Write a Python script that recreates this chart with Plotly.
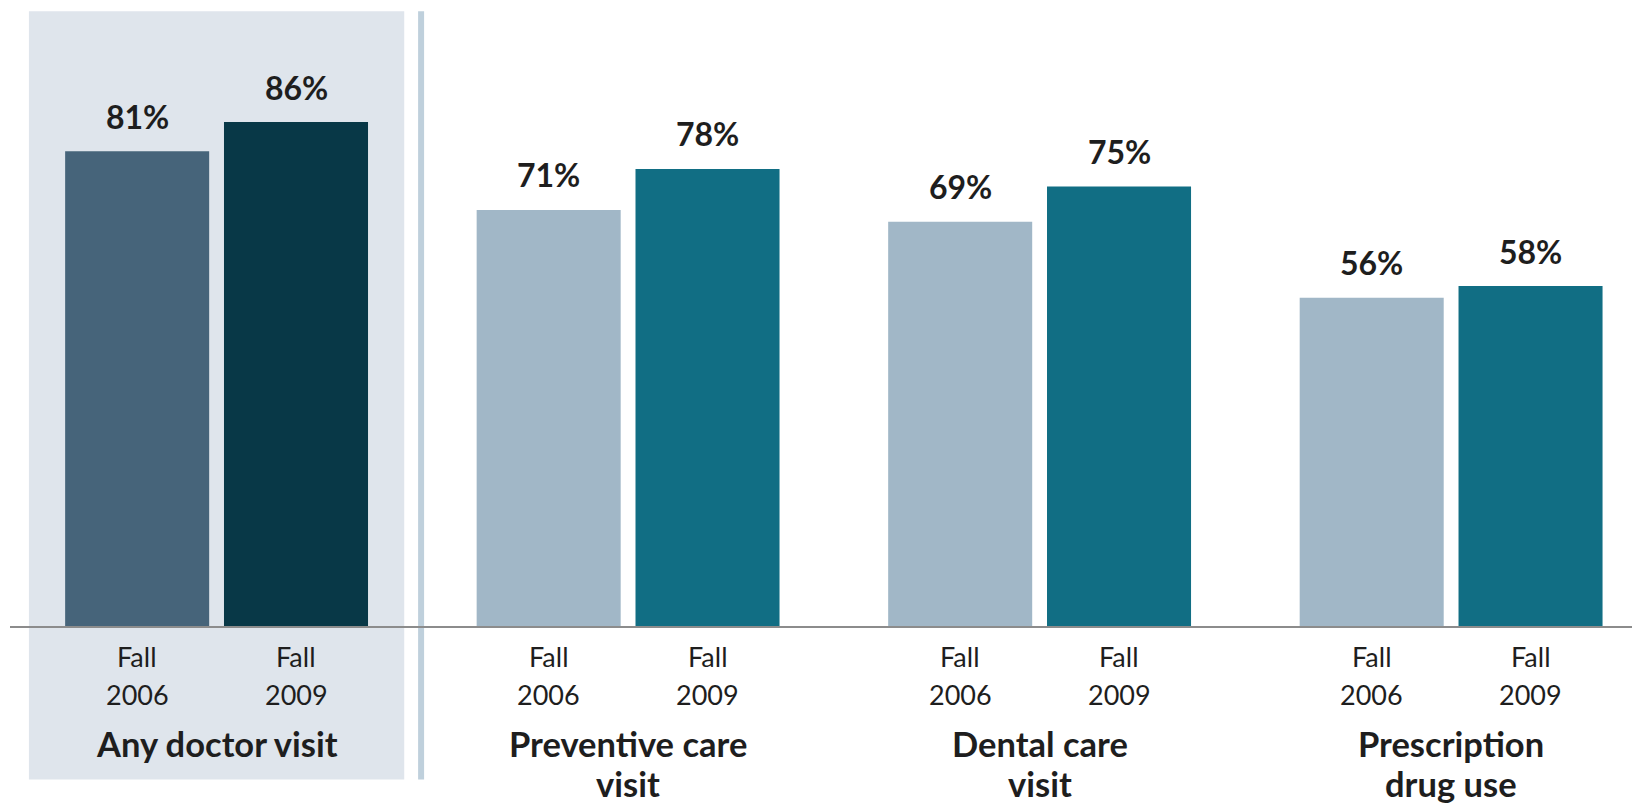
import plotly.graph_objects as go

categories = ["Any doctor visit", "Preventive care<br>visit", "Dental care<br>visit", "Prescription<br>drug use"]
years = ["Fall<br>2006", "Fall<br>2009"]
values_2006 = [81, 71, 69, 56]
values_2009 = [86, 78, 75, 58]
colors_2006 = ["#46647a", "#a1b7c7", "#a1b7c7", "#a1b7c7"]
colors_2009 = ["#083847", "#116e84", "#116e84", "#116e84"]

xpos = list(range(len(categories)))
BAR_W = 0.35
OFFSETS = [-0.368, 0.018]
FONT = "Lato"
TXT = "#1e1e1e"

fig = go.Figure()
for vals, cols, off, name in [(values_2006, colors_2006, OFFSETS[0], years[0]),
                              (values_2009, colors_2009, OFFSETS[1], years[1])]:
    fig.add_trace(go.Bar(x=xpos, y=vals, width=BAR_W, offset=off,
                         marker=dict(color=cols, line=dict(width=0)),
                         name=name, showlegend=False))

annotations = []
for vals, off, ylabel in [(values_2006, OFFSETS[0], years[0]), (values_2009, OFFSETS[1], years[1])]:
    line1, line2 = ylabel.split("<br>")
    for i, v in enumerate(vals):
        xc = xpos[i] + off + BAR_W / 2
        annotations.append(dict(x=xc, y=v, xref="x", yref="y", text=f"<b>{v}%</b>",
                                showarrow=False, yanchor="middle", yshift=35,
                                font=dict(family=FONT, size=32, color=TXT)))
        annotations.append(dict(x=xc, y=0, xref="x", yref="paper", text=line1,
                                showarrow=False, yanchor="middle", yshift=-30,
                                font=dict(family=FONT, size=27, color=TXT)))
        annotations.append(dict(x=xc, y=0, xref="x", yref="paper", text=line2,
                                showarrow=False, yanchor="middle", yshift=-68,
                                font=dict(family=FONT, size=27, color=TXT)))
for i, c in enumerate(categories):
    for k, part in enumerate(c.split("<br>")):
        annotations.append(dict(x=xpos[i], y=0, xref="x", yref="paper", text=f"<b>{part}</b>",
                                showarrow=False, yanchor="middle", yshift=-117 - 40 * k,
                                font=dict(family=FONT, size=34.5, color=TXT)))

shapes = [
    dict(type="rect", xref="x", yref="paper", x0=-0.456, x1=0.456, y0=-0.262, y1=1.049,
         fillcolor="#dfe5ec", line=dict(width=0), layer="below"),
    dict(type="line", xref="x", yref="paper", x0=0.497, x1=0.497, y0=-0.262, y1=1.049,
         line=dict(color="#bfd0dc", width=6), layer="below"),
]

fig.update_layout(
    width=1632, height=795,
    margin=dict(l=2, r=0, t=32, b=177),
    paper_bgcolor="white", plot_bgcolor="rgba(0,0,0,0)",
    barmode="overlay",
    xaxis=dict(range=[-0.502, 3.459], showticklabels=False, showgrid=False, zeroline=False,
               showline=True, linecolor="#8c8c8c", linewidth=1.5, ticks=""),
    yaxis=dict(range=[0, 100], visible=False, showgrid=False, zeroline=False),
    annotations=annotations,
    shapes=shapes,
)

fig.write_html("out.html")
